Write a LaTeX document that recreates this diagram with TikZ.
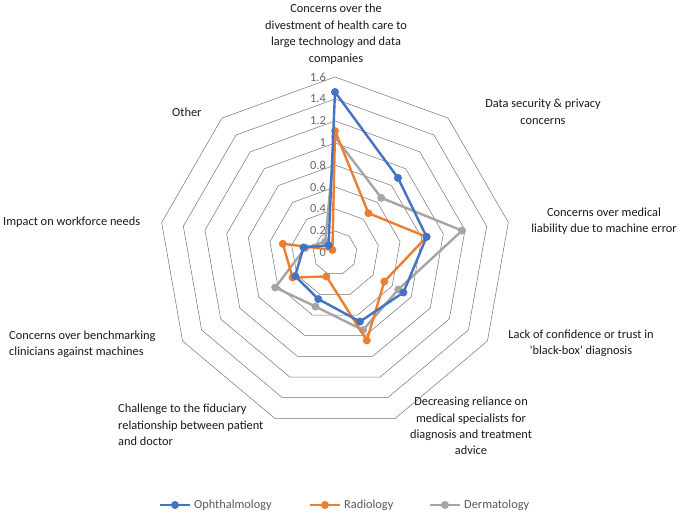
\documentclass[tikz,border=0pt]{standalone}
\usepackage{fontspec}
\setmainfont{Carlito}
\begin{document}
\begin{tikzpicture}[x=1bp,y=-1bp,
  ring/.style={draw=black!55,line width=0.5bp},
  lbl/.style={font=\fontsize{12.4}{16.5}\selectfont,text=black!90,inner sep=0},
  tick/.style={font=\fontsize{12.4}{14}\selectfont,text=black!60,anchor=east,inner sep=0},
  ser/.style={line width=2.4bp,line join=round},
  mk/.style={circle,inner sep=0,minimum size=8bp}]
\definecolor{cb}{HTML}{4472C4}\definecolor{co}{HTML}{ED7D31}\definecolor{cg}{HTML}{A5A5A5}
\useasboundingbox (0,0) rectangle (684,513);
\coordinate (c) at (335,253);
\begin{scope}[shift={(c)}]
\foreach \k in {1,...,8}{
  \draw[ring] (90:22*\k bp) \foreach \i in {1,...,8}{ -- (90-40*\i:22*\k bp)} -- cycle;
}
\end{scope}
\foreach \v/\k in {0/0,0.2/1,0.4/2,0.6/3,0.8/4,1/5,1.2/6,1.4/7,1.6/8}
  \node[tick] (t\k) at (326,{253-22*\k}) {\v};
\foreach \col/\nm/\rr in {cg/g/{116,72,129,73,82,57,69,30,15},
                          co/o/{122,52,93,57,93,25,49,53,4},
                          cb/b/{161,98,93,79,73,49,46,32,10}}{
  \begin{scope}[shift={(c)}]
  \foreach \r [count=\i from 0] in \rr { \coordinate (\nm\i) at ({90-40*\i}:{\r*1bp}); }
  \draw[ser,\col] (\nm0)--(\nm1)--(\nm2)--(\nm3)--(\nm4)--(\nm5)--(\nm6)--(\nm7)--(\nm8)--cycle;
  \foreach \i in {0,...,8} \node[mk,fill=\col] (p\nm\i) at (\nm\i) {};
  \end{scope}
}
\node[lbl,align=center,anchor=north] (a0) at (336,4) {Concerns over the\\divestment of health care to\\large technology and data\\companies};
\node[lbl,align=center] (a1) at (543,112) {Data security \& privacy\\concerns};
\node[lbl,align=center] (a2) at (604,221) {Concerns over medical\\liability due to machine error};
\node[lbl,align=center] (a3) at (581,343) {Lack of confidence or trust in\\\textquotesingle black-box\textquotesingle{} diagnosis};
\node[lbl,align=center] (a4) at (471,426) {Decreasing reliance on\\medical specialists for\\diagnosis and treatment\\advice};
\node[lbl,align=left,anchor=west] (a5) at (118,425) {Challenge to the fiduciary\\relationship between patient\\and doctor};
\node[lbl,align=left,anchor=west] (a6) at (9,344) {Concerns over benchmarking\\clinicians against machines};
\node[lbl,anchor=west] (a7) at (3,222) {Impact on workforce needs};
\node[lbl,anchor=west] (a8) at (172,112) {Other};
\foreach \col/\t/\x in {cb/Ophthalmology/160,co/Radiology/310,cg/Dermatology/430}{
  \coordinate (l\t) at (\x,505); \coordinate (r\t) at (\x+30,505);
  \draw[ser,\col] (l\t)--(r\t);
  \node[mk,fill=\col] (m\t) at (\x+15,505) {};
  \node[lbl,anchor=west,text=black!65] (n\t) at (\x+34,505) {\t};
}
\end{tikzpicture}
\end{document}
